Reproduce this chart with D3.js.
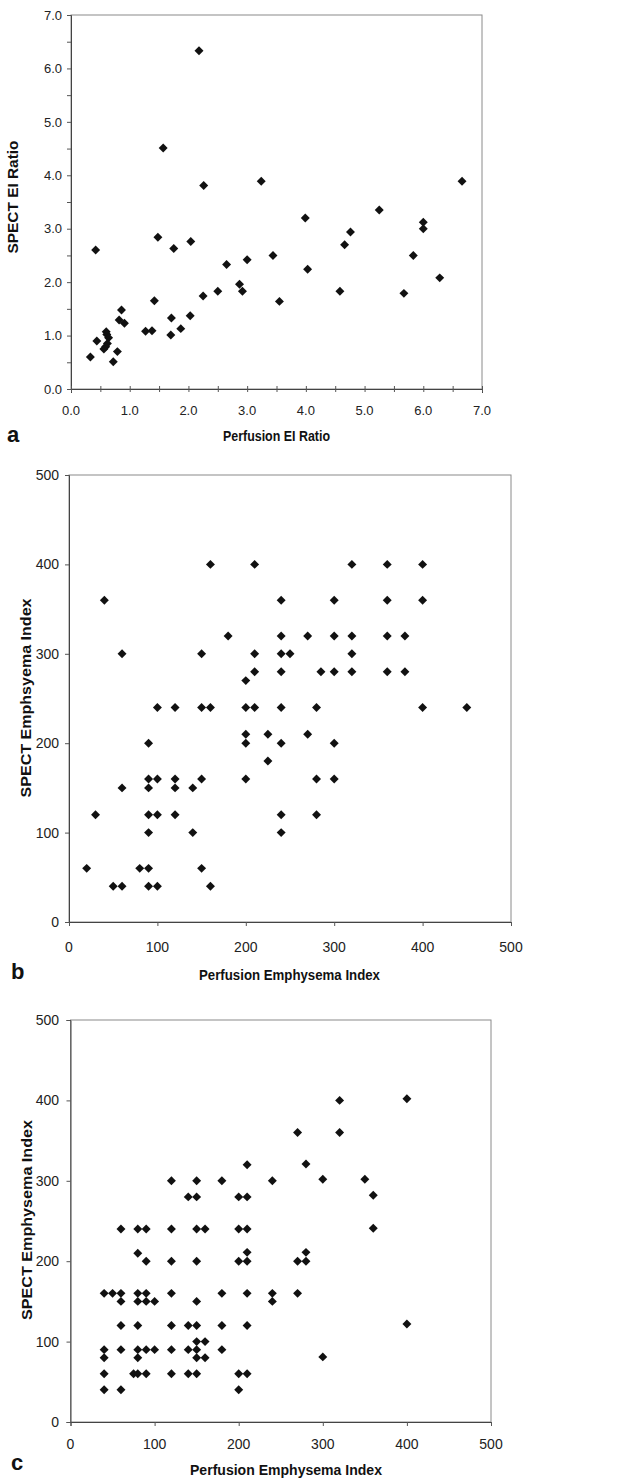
<!DOCTYPE html>
<html>
<head>
<meta charset="utf-8">
<script src="https://cdn.jsdelivr.net/npm/d3@7"></script>
<style>
  html, body { margin: 0; padding: 0; background: #fff; }
  svg { display: block; font-family: "Liberation Sans", Arial, Helvetica, sans-serif; }
</style>
</head>
<body>
<svg id="chart" width="631" height="1479"></svg>
<script>
// ---------- Panel a: Perfusion EI Ratio vs SPECT EI Ratio ----------
const panelA_x = [0.33,0.44,0.42,0.60,0.61,0.64,0.62,0.59,0.56,0.72,0.79,0.82,0.86,0.91,1.27,1.38,1.42,1.48,1.57,1.70,1.71,1.75,1.87,2.03,2.04,2.18,2.25,2.26,2.50,2.65,2.87,2.92,3.00,3.24,3.44,3.55,3.99,4.03,4.58,4.66,4.76,5.25,5.67,5.83,6.00,6.00,6.28,6.66];
const panelA_y = [0.60,0.90,2.60,1.07,1.02,0.96,0.85,0.79,0.75,0.51,0.70,1.29,1.48,1.23,1.08,1.09,1.65,2.84,4.51,1.01,1.33,2.63,1.13,1.37,2.76,6.33,1.74,3.81,1.83,2.33,1.96,1.83,2.42,3.89,2.50,1.64,3.20,2.24,1.83,2.70,2.94,3.35,1.79,2.50,3.12,3.00,2.08,3.89];
const panelA_ticks = [0,1,2,3,4,5,6,7];
const panelA_minorTicks = [0,0.5,1,1.5,2,2.5,3,3.5,4,4.5,5,5.5,6,6.5,7];

// ---------- Panel b ----------
const panelB_x = [160,210,320,360,400, 40,240,300,360,400, 180,240,270,300,320,360,380, 60,150,210,240,250,320, 210,240,285,300,320,360,380, 200, 100,120,150,160,200,210,240,280,400,450, 200,225,270, 90,200,240,300, 225, 90,100,120,150,200,280,300, 60,90,120,140, 30,90,100,120,240,280, 90,140,240, 20,80,90,150, 50,60,90,100,160];
const panelB_y = [400,400,400,400,400, 360,360,360,360,360, 320,320,320,320,320,320,320, 300,300,300,300,300,300, 280,280,280,280,280,280,280, 270, 240,240,240,240,240,240,240,240,240,240, 210,210,210, 200,200,200,200, 180, 160,160,160,160,160,160,160, 150,150,150,150, 120,120,120,120,120,120, 100,100,100, 60,60,60,60, 40,40,40,40,40];

// ---------- Panel c ----------
const panelC_x = [320,400, 270,320, 210,280, 120,150,180,240,300,350, 140,150,200,210,360, 60,80,90,120,150,160,200,210,360, 80,210,280, 90,120,150,200,210,270,280, 40,50,60,80,90,120,180,210,240,270, 60,80,90,100,150,240, 60,80,120,140,150,180,210,400, 150,160, 40,60,80,90,100,120,140,150,180, 40,80,150,160,300, 40,75,80,90,120,140,150,200,210, 40,60,200];
const panelC_y = [400,402, 360,360, 320,321, 300,300,300,300,302,302, 280,280,280,280,282, 240,240,240,240,240,240,240,240,241, 210,211,211, 200,200,200,200,200,200,200, 160,160,160,160,160,160,160,160,160,160, 150,150,150,150,150,150, 120,120,120,120,120,120,120,122, 100,100, 90,90,90,90,90,90,90,90,90, 80,80,80,80,81, 60,60,60,60,60,60,60,60,60, 40,40,40];
const panelBC_ticks = [0,100,200,300,400,500];

// ---------- Text ----------
const panelA_xTitle = "Perfusion EI Ratio";
const panelA_yTitle = "SPECT EI Ratio";
const panelB_xTitle = "Perfusion Emphysema Index";
const panelB_yTitle = "SPECT Emphsyema Index";
const panelC_xTitle = "Perfusion Emphysema Index";
const panelC_yTitle = "SPECT Emphysema Index";

const svg = d3.select("#chart");
const marker = d3.symbol().type(d3.symbolSquare).size(40);

function panel(cfg) {
  const x = d3.scaleLinear().domain(cfg.domain).range([cfg.left, cfg.right]);
  const y = d3.scaleLinear().domain(cfg.domain).range([cfg.bottom, cfg.top]);
  const g = svg.append("g");

  // frame
  g.append("rect")
    .attr("x", cfg.left).attr("y", cfg.top)
    .attr("width", cfg.right - cfg.left).attr("height", cfg.bottom - cfg.top)
    .attr("fill", "none").attr("stroke", "#8a8a8a").attr("stroke-width", 1);

  // y axis
  const yAxis = d3.axisLeft(y).tickValues(cfg.yTicks).tickSize(cfg.tickLen).tickFormat("");
  const ya = g.append("g").attr("transform", `translate(${cfg.left},0)`).call(yAxis);
  ya.select(".domain").attr("stroke", "#444");
  ya.selectAll(".tick line").attr("stroke", "#555");

  // x axis
  const xAxis = d3.axisBottom(x).tickValues(cfg.xTicks).tickSize(cfg.tickLen).tickFormat("");
  const xa = g.append("g").attr("transform", `translate(0,${cfg.bottom})`).call(xAxis);
  xa.select(".domain").attr("stroke", "#444");
  xa.selectAll(".tick line").attr("stroke", "#555");
  if (cfg.crossX) xa.selectAll(".tick line").attr("y1", -cfg.tickLen + 1).attr("y2", cfg.tickLen - 1);

  // tick labels
  g.selectAll(".ylab").data(cfg.labels).join("text")
    .attr("x", cfg.yLabelX).attr("y", d => y(d)).attr("dy", "0.36em")
    .attr("text-anchor", "end").attr("font-size", cfg.tickFont).attr("fill", "#222")
    .text(cfg.fmt);
  g.selectAll(".xlab").data(cfg.labels).join("text")
    .attr("x", d => x(d)).attr("y", cfg.xLabelY).attr("dy", "0.36em")
    .attr("text-anchor", "middle").attr("font-size", cfg.tickFont).attr("fill", "#222")
    .text(cfg.fmt);

  // titles
  g.append("text").attr("x", cfg.xTitleX).attr("y", cfg.xTitleY)
    .attr("text-anchor", "middle").attr("font-size", 14).attr("font-weight", "bold").attr("fill", "#111")
    .attr("textLength", cfg.xTitleLen).attr("lengthAdjust", "spacingAndGlyphs")
    .text(cfg.xTitle);
  g.append("text")
    .attr("transform", `translate(${cfg.yTitleX},${cfg.yTitleY}) rotate(-90)`)
    .attr("text-anchor", "middle").attr("font-size", 14).attr("font-weight", "bold").attr("fill", "#111")
    .attr("textLength", cfg.yTitleLen).attr("lengthAdjust", "spacingAndGlyphs")
    .text(cfg.yTitle);
  g.append("text").attr("x", cfg.tagX).attr("y", cfg.tagY)
    .attr("font-size", 22).attr("font-weight", "bold").attr("fill", "#111")
    .text(cfg.tag);

  // points
  g.selectAll(".pt").data(cfg.xs.map((v, i) => [v, cfg.ys[i]])).join("path")
    .attr("d", marker)
    .attr("transform", d => `translate(${x(d[0])},${y(d[1])}) rotate(45)`)
    .attr("fill", "#111");
}

panel({
  domain: [0, 7], left: 71, right: 482, top: 15, bottom: 389,
  yTicks: panelA_minorTicks, xTicks: panelA_minorTicks, tickLen: 4, crossX: true,
  labels: panelA_ticks, fmt: d => d3.format(".1f")(d), tickFont: 13,
  yLabelX: 62, xLabelY: 410,
  xTitle: panelA_xTitle, xTitleX: 276.5, xTitleY: 441, xTitleLen: 107,
  yTitle: panelA_yTitle, yTitleX: 18, yTitleY: 197, yTitleLen: 113,
  tag: "a", tagX: 7, tagY: 442,
  xs: panelA_x, ys: panelA_y
});

panel({
  domain: [0, 500], left: 69, right: 511, top: 475, bottom: 922,
  yTicks: panelBC_ticks, xTicks: panelBC_ticks, tickLen: 4, crossX: false,
  labels: panelBC_ticks, fmt: d => d, tickFont: 14,
  yLabelX: 59, xLabelY: 947,
  xTitle: panelB_xTitle, xTitleX: 289.5, xTitleY: 980, xTitleLen: 181,
  yTitle: panelB_yTitle, yTitleX: 31, yTitleY: 698, yTitleLen: 199,
  tag: "b", tagX: 11, tagY: 979,
  xs: panelB_x, ys: panelB_y
});

panel({
  domain: [0, 500], left: 70.5, right: 491, top: 1020, bottom: 1422,
  yTicks: panelBC_ticks, xTicks: panelBC_ticks, tickLen: 4, crossX: false,
  labels: panelBC_ticks, fmt: d => d, tickFont: 14,
  yLabelX: 59, xLabelY: 1444,
  xTitle: panelC_xTitle, xTitleX: 286, xTitleY: 1475, xTitleLen: 192,
  yTitle: panelC_yTitle, yTitleX: 32, yTitleY: 1220, yTitleLen: 200,
  tag: "c", tagX: 11, tagY: 1470,
  xs: panelC_x, ys: panelC_y
});
</script>
</body>
</html>
